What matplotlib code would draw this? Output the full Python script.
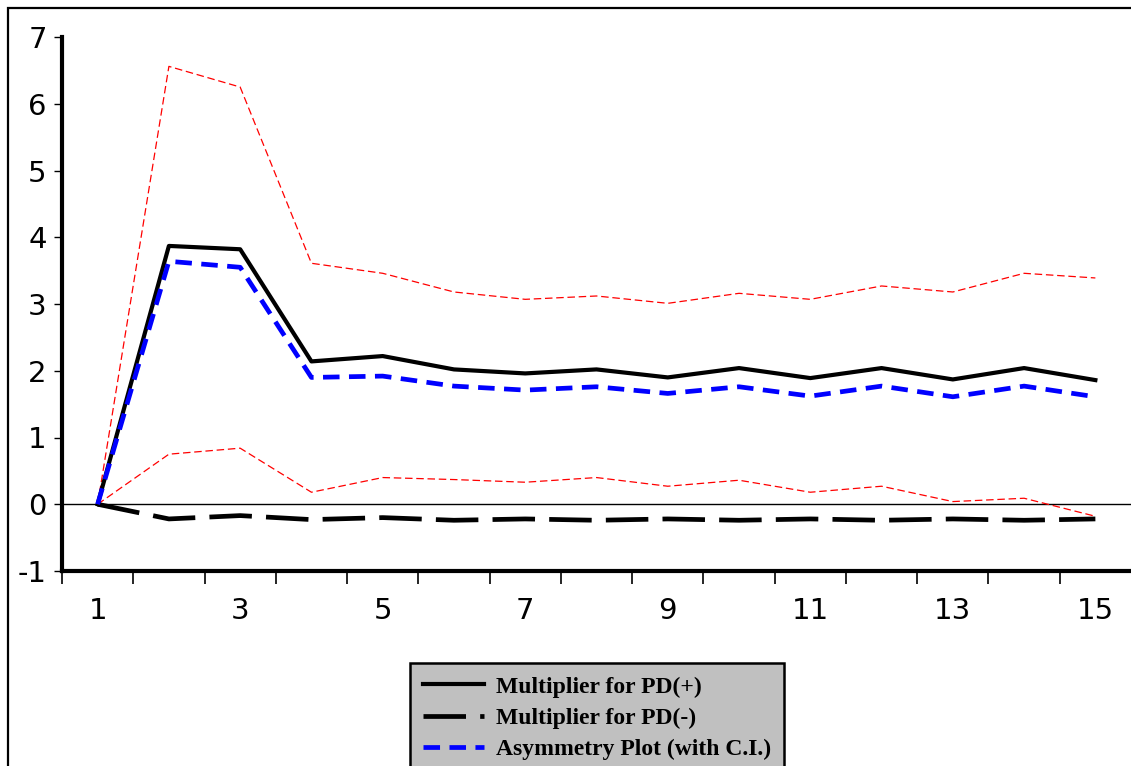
import matplotlib.pyplot as plt
from matplotlib.patches import Rectangle

plt.rcParams["axes.unicode_minus"] = False

periods = list(range(1, 16))
pd_pos = [0, 3.87, 3.82, 2.14, 2.22, 2.02, 1.96, 2.02, 1.90, 2.04, 1.89, 2.04, 1.87, 2.04, 1.86]
pd_neg = [0, -0.22, -0.17, -0.23, -0.20, -0.24, -0.22, -0.24, -0.22, -0.24, -0.22, -0.24, -0.22, -0.24, -0.22]
asym = [0, 3.64, 3.55, 1.90, 1.92, 1.77, 1.71, 1.76, 1.66, 1.76, 1.62, 1.77, 1.61, 1.77, 1.61]
ci_up = [0, 6.56, 6.25, 3.61, 3.46, 3.18, 3.07, 3.12, 3.01, 3.16, 3.07, 3.27, 3.18, 3.46, 3.39]
ci_low = [0, 0.75, 0.84, 0.18, 0.40, 0.37, 0.33, 0.40, 0.27, 0.36, 0.18, 0.27, 0.04, 0.09, -0.18]

W, H = 1131, 766
fig = plt.figure(figsize=(W / 100, H / 100), dpi=100)
ax = fig.add_axes([62 / W, 1 - 571 / H, 1 - 62 / W, (571 - 37) / H])

# outer frame (cut off at right and bottom like the original)
fig.patches.append(Rectangle((8 / W, -0.1), 1.2, 1 - 8 / H + 0.1, transform=fig.transFigure,
                             fill=False, edgecolor="black", linewidth=1.6))

ax.axhline(0, color="black", linewidth=1.0, zorder=1)

ax.plot(periods, ci_up, color="red", linewidth=0.9, dashes=(6, 3), zorder=2)
ax.plot(periods, ci_low, color="red", linewidth=0.9, dashes=(6, 3), zorder=2)
l1, = ax.plot(periods, pd_pos, color="black", linewidth=3.0, zorder=3)
l2, = ax.plot(periods, pd_neg, color="black", linewidth=3.4, dashes=(9, 3), zorder=3)
l3, = ax.plot(periods, asym, color="blue", linewidth=3.4, dashes=(3.5, 2), zorder=4)

ax.set_xlim(0.5, 15.5)
ax.set_ylim(-1, 7)

for s in ["top", "right"]:
    ax.spines[s].set_visible(False)
for s in ["left", "bottom"]:
    ax.spines[s].set_linewidth(3.0)

ax.set_yticks(range(-1, 8))
ax.tick_params(axis="y", length=6, width=1, pad=5, labelsize=21)

ax.set_xticks([k + 0.5 for k in range(0, 15)])
ax.set_xticklabels([])
ax.tick_params(axis="x", which="major", length=9, width=1.2)
ax.set_xticks(list(range(1, 16, 2)), minor=True)
ax.set_xticklabels([str(k) for k in range(1, 16, 2)], minor=True)
ax.tick_params(axis="x", which="minor", length=0, pad=19, labelsize=21)

for t in ax.get_xticklabels(minor=True) + ax.get_yticklabels():
    t.set_family(["DejaVu Sans"])

leg = fig.legend([l1, l2, l3],
                 ["Multiplier for PD(+)", "Multiplier for PD(-)", "Asymmetry Plot (with C.I.)"],
                 loc="upper left", bbox_to_anchor=(410 / W, 1 - 663 / H), borderaxespad=0,
                 prop={"family": "Liberation Serif", "weight": "bold", "size": 17},
                 fancybox=False, framealpha=1, facecolor="#c0c0c0", edgecolor="black",
                 handlelength=2.6, handletextpad=0.5, labelspacing=0.42, borderpad=0.55)
leg.get_frame().set_linewidth(1.8)

fig.savefig("out.png", dpi=100)
